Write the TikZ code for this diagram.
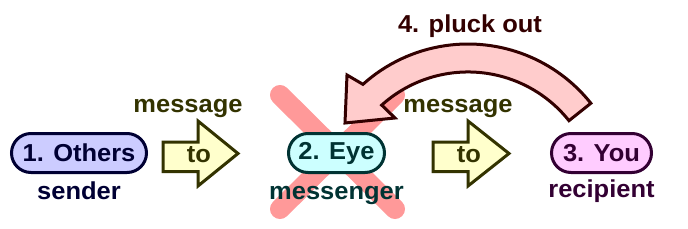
\documentclass[tikz,border=0pt]{standalone}
\usepackage{fontspec}
\setmainfont{Liberation Sans}[FakeStretch=1.04]
\usetikzlibrary{shapes.misc}
\definecolor{othersfill}{HTML}{CCCCFF}
\definecolor{othersdark}{HTML}{000033}
\definecolor{eyefill}{HTML}{CCFFFF}
\definecolor{eyedark}{HTML}{003333}
\definecolor{youfill}{HTML}{FFCCFF}
\definecolor{youdark}{HTML}{330033}
\definecolor{arrowfill}{HTML}{FFFFCC}
\definecolor{arrowdark}{HTML}{333300}
\definecolor{pluckfill}{HTML}{FFCCCC}
\definecolor{pluckdark}{HTML}{330000}
\definecolor{crosscol}{HTML}{FF9999}
\begin{document}
\begin{tikzpicture}[x=1pt,y=1pt,
  font=\fontsize{24.5}{27}\selectfont\bfseries,
  pill/.style={rounded rectangle, draw, line width=3pt, minimum height=39pt, inner xsep=2pt, inner ysep=0pt},
  lbl/.style={anchor=base, inner sep=0pt},
  blockarrow/.style={draw=arrowdark, fill=arrowfill, line width=3pt, line join=miter},
  cross/.style={draw=crosscol, line width=20pt, line cap=round}]
\useasboundingbox (0,0) rectangle (688,-228);
% cross over the eye
\coordinate (x1) at (280,-95);
\coordinate (x2) at (395,-209);
\coordinate (x3) at (395,-95);
\coordinate (x4) at (280,-209);
\draw[cross] (x1) -- (x2);
\draw[cross] (x3) -- (x4);
% pills
\node[pill, fill=othersfill, draw=othersdark, text=othersdark, minimum width=139pt] (others) at (79,-153) {1. Others};
\node[pill, fill=eyefill, draw=eyedark, text=eyedark, minimum width=100pt] (eye) at (336.5,-153) {2. Eye};
\node[pill, fill=youfill, draw=youdark, text=youdark, minimum width=104pt] (you) at (601.5,-153) {3. You};
% labels below
\node[lbl, text=othersdark] (sender) at (79,-199) {sender};
\node[lbl, text=eyedark] (messenger) at (336.5,-199) {messenger};
\node[lbl, text=youdark] (recipient) at (601.5,-197) {recipient};
% block arrows
\draw[blockarrow] (163,-142) -- (198,-142) -- (198,-121) -- (238,-153.5) -- (198,-186) -- (198,-171.5) -- (163,-171.5) -- cycle;
\draw[blockarrow] (433,-142) -- (468,-142) -- (468,-121) -- (509,-153.5) -- (468,-186) -- (468,-171.5) -- (433,-171.5) -- cycle;
\node[lbl, text=arrowdark] (to1) at (199,-162) {to};
\node[lbl, text=arrowdark] (to2) at (469,-162) {to};
\node[lbl, text=arrowdark] (msg1) at (188,-112) {message};
\node[lbl, text=arrowdark] (msg2) at (458,-112) {message};
% curved pluck-out arrow
\draw[draw=pluckdark, fill=pluckfill, line width=3pt, line join=miter]
  (468,-201) ++(38.5:157) arc[start angle=38.5, end angle=132, radius=157]
  -- (347,-75) -- (345,-123) -- (395,-118) -- (381.7,-105.1)
  arc[start angle=132, end angle=38.5, radius=129] -- cycle;
\node[lbl, text=pluckdark] (pluck) at (470,-32) {4. pluck out};
\end{tikzpicture}
\end{document}
